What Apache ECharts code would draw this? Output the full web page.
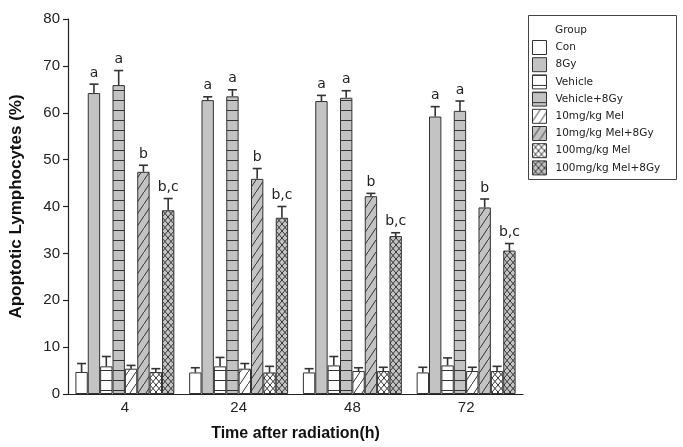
<!DOCTYPE html>
<html>
<head>
<meta charset="utf-8">
<script src="https://cdn.jsdelivr.net/npm/echarts@6/dist/echarts.min.js"></script>
<style>
  html, body { margin: 0; padding: 0; background: #fff; }
  #chart { width: 683px; height: 447px; }
</style>
</head>
<body>
<div id="chart"></div>
<script>
// Time points (hours after radiation)
const categories = ['4', '24', '48', '72'];

// Group names, in drawing order
const groupNames = ['Con', '8Gy', 'Vehicle', 'Vehicle+8Gy',
  '10mg/kg Mel', '10mg/kg Mel+8Gy', '100mg/kg Mel', '100mg/kg Mel+8Gy'];

// Mean apoptotic lymphocytes (%) and error per group, one entry per time point
const conMean = [4.7, 4.6, 4.6, 4.6];
const conErr = [1.8, 1.0, 0.8, 1.1];
const gy8Mean = [64.2, 62.7, 62.5, 59.2];
const gy8Err = [1.9, 0.7, 1.2, 2.1];
const vehMean = [5.9, 5.9, 6.1, 6.1];
const vehErr = [2.1, 1.9, 1.9, 1.6];
const veh8Mean = [65.9, 63.5, 63.2, 60.4];
const veh8Err = [3.1, 1.4, 1.5, 2.1];
const mel10Mean = [5.4, 5.4, 4.9, 4.9];
const mel10Err = [0.7, 1.1, 0.7, 0.8];
const mel10Gy8Mean = [47.4, 45.9, 42.2, 39.8];
const mel10Gy8Err = [1.4, 2.2, 0.6, 1.8];
const mel100Mean = [4.7, 4.6, 4.9, 4.9];
const mel100Err = [0.7, 1.3, 0.8, 1.0];
const mel100Gy8Mean = [39.2, 37.6, 33.7, 30.6];
const mel100Gy8Err = [2.5, 2.4, 0.7, 1.5];

// Significance letters drawn above each group's bars
const groupLetters = ['', 'a', '', 'a', '', 'b', '', 'b,c'];

const means = [conMean, gy8Mean, vehMean, veh8Mean, mel10Mean, mel10Gy8Mean, mel100Mean, mel100Gy8Mean];
const errs = [conErr, gy8Err, vehErr, veh8Err, mel10Err, mel10Gy8Err, mel100Err, mel100Gy8Err];

const WHITE = '#ffffff';
const GREY = '#c3c3c3';
const INK = '#333333';

// Fill patterns painted on small tiles
function makeTile(kind, bg) {
  const c = document.createElement('canvas');
  let w = 10, h = 10;
  if (kind === 'diag') { w = 8; h = 12; }
  if (kind === 'cross') { w = 6; h = 7; }
  c.width = w; c.height = h;
  const g = c.getContext('2d');
  g.fillStyle = bg;
  g.fillRect(0, 0, w, h);
  g.strokeStyle = INK;
  g.lineWidth = 1;
  if (kind === 'hline') {
    g.beginPath(); g.moveTo(0, 0.5); g.lineTo(w, 0.5); g.stroke();
  } else if (kind === 'diag') {
    g.beginPath();
    g.moveTo(-w, 2 * h); g.lineTo(2 * w, -h);
    g.stroke();
  } else if (kind === 'cross') {
    g.beginPath();
    g.moveTo(-w, 2 * h); g.lineTo(2 * w, -h);
    g.moveTo(-w, -h); g.lineTo(2 * w, 2 * h);
    g.stroke();
  }
  return { image: c, repeat: 'repeat' };
}

const fills = [
  WHITE, GREY,
  makeTile('hline', WHITE), makeTile('hline', GREY),
  makeTile('diag', WHITE), makeTile('diag', GREY),
  makeTile('cross', WHITE), makeTile('cross', GREY)
];

const CAT_GAP = 0.13;
const N = groupNames.length;

const barSeries = groupNames.map((name, i) => ({
  name: name,
  type: 'bar',
  data: means[i],
  barGap: '0%',
  barCategoryGap: (CAT_GAP * 100) + '%',
  itemStyle: { color: fills[i], borderColor: INK, borderWidth: 1 },
  emphasis: { disabled: true },
  z: 2
}));

// Upper error whiskers and letters for each group
const errSeries = groupNames.map((name, i) => ({
  name: name + ' err',
  type: 'custom',
  z: 3,
  silent: true,
  data: categories.map((c, j) => [j, means[i][j], errs[i][j]]),
  encode: { x: 0, y: 1 },
  renderItem: function (params, api) {
    const idx = api.value(0);
    const m = api.value(1);
    const e = api.value(2);
    const base = api.coord([idx, m]);
    const top = api.coord([idx, m + e]);
    const band = api.size([1, 0])[0];
    const bw = band * (1 - CAT_GAP) / N;
    const x = base[0] + (i - (N - 1) / 2) * bw;
    const capHalf = 4.5;
    const ls = { stroke: INK, lineWidth: 1.6 };
    const children = [
      { type: 'line', shape: { x1: x, y1: base[1], x2: x, y2: top[1] }, style: ls },
      { type: 'line', shape: { x1: x - capHalf, y1: top[1], x2: x + capHalf, y2: top[1] }, style: ls }
    ];
    if (groupLetters[i]) {
      children.push({
        type: 'text',
        style: {
          text: groupLetters[i], x: x, y: top[1] - 4,
          align: 'center', verticalAlign: 'bottom',
          fontSize: 14, fontFamily: 'DejaVu Sans', fill: '#222'
        }
      });
    }
    return { type: 'group', children: children };
  }
}));

const chart = echarts.init(document.getElementById('chart'), null, { renderer: 'canvas' });

chart.setOption({
  animation: false,
  backgroundColor: '#fff',
  grid: { left: 65, right: 160, top: 19, bottom: 42.5, containLabel: false },
  legend: {
    data: groupNames,
    orient: 'vertical',
    left: 532,
    top: 40,
    itemWidth: 14,
    itemHeight: 14,
    itemGap: 2.2,
    icon: 'rect',
    padding: 0,
    selectedMode: false,
    itemStyle: { borderWidth: 1, borderColor: INK },
    textStyle: {
      fontFamily: 'DejaVu Sans', fontSize: 10.5, color: '#222',
      lineHeight: 14, padding: [0, 0, 0, 4]
    }
  },
  graphic: [
    {
      type: 'rect', silent: true,
      shape: { x: 528.5, y: 15.5, width: 148, height: 164 },
      style: { fill: 'none', stroke: '#444', lineWidth: 1 }
    },
    {
      type: 'text', silent: true, left: 555, top: 25,
      style: { text: 'Group', fontFamily: 'DejaVu Sans', fontSize: 10.5, fill: '#222' }
    }
  ],
  xAxis: {
    type: 'category',
    data: categories,
    name: 'Time after radiation(h)',
    nameLocation: 'middle',
    nameGap: 32,
    nameTextStyle: { fontFamily: 'Liberation Sans', fontWeight: 'bold', fontSize: 16, color: '#111' },
    axisLine: { show: true, lineStyle: { color: '#222', width: 1.2 } },
    axisTick: { show: false },
    axisLabel: { fontFamily: 'Liberation Sans', fontSize: 15, color: '#222', margin: 6 },
    splitLine: { show: false }
  },
  yAxis: {
    type: 'value',
    min: 0,
    max: 80,
    interval: 10,
    name: 'Apoptotic Lymphocytes (%)',
    nameLocation: 'middle',
    nameGap: 43,
    nameTextStyle: { fontFamily: 'Liberation Sans', fontWeight: 'bold', fontSize: 17, color: '#111' },
    axisLine: { show: true, lineStyle: { color: '#222', width: 1.2 } },
    axisTick: { show: true, inside: false, length: 5, lineStyle: { color: '#222', width: 1.2 } },
    axisLabel: { fontFamily: 'Liberation Sans', fontSize: 15, color: '#222', margin: 8 },
    splitLine: { show: false }
  },
  series: barSeries.concat(errSeries)
});
</script>
</body>
</html>
